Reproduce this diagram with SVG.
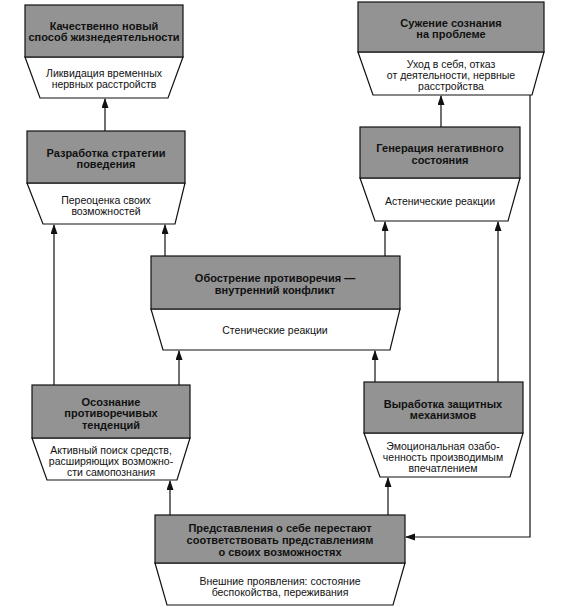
<svg xmlns="http://www.w3.org/2000/svg" width="571" height="613" viewBox="0 0 571 613">
<style>
.h{fill:#939393;stroke:#111;stroke-width:1.2}
.b{fill:#fff;stroke:#111;stroke-width:1.2}
.t{font-family:"Liberation Sans",Arial,sans-serif;font-size:11px;font-weight:bold;fill:#111;text-anchor:middle}
.s{font-family:"Liberation Sans",Arial,sans-serif;font-size:10.5px;fill:#111;text-anchor:middle}
.c{fill:none;stroke:#111;stroke-width:1.2}
</style>
<defs>
<marker id="a" markerWidth="10" markerHeight="8" refX="9" refY="3.5" orient="auto" markerUnits="userSpaceOnUse">
<path d="M0,0 L10,3.5 L0,7 Z" fill="#111"/>
</marker>
</defs>
<rect width="571" height="613" fill="#fff"/>
<g id="connectors">
<path class="c" d="M105,131 V99" marker-end="url(#a)"/>
<path class="c" d="M54,385 V225" marker-end="url(#a)"/>
<path class="c" d="M165,256 V225" marker-end="url(#a)"/>
<path class="c" d="M385,256 V222" marker-end="url(#a)"/>
<path class="c" d="M179,385 V351" marker-end="url(#a)"/>
<path class="c" d="M375,382 V351" marker-end="url(#a)"/>
<path class="c" d="M498,382 V222" marker-end="url(#a)"/>
<path class="c" d="M441,127 V96" marker-end="url(#a)"/>
<path class="c" d="M170,515 V481" marker-end="url(#a)"/>
<path class="c" d="M388,515 V478" marker-end="url(#a)"/>
<path class="c" d="M530,95 V537 H406" marker-end="url(#a)"/>
</g>
<g id="n1">
<polygon class="b" points="25,57 183,57 168,98 40,98"/>
<rect class="h" x="25" y="5" width="158" height="52"/>
<text class="t" x="104" y="30">Качественно новый</text>
<text class="t" x="104" y="41">способ жизнедеятельности</text>
<text class="s" x="104" y="77">Ликвидация временных</text>
<text class="s" x="104" y="88">нервных расстройств</text>
</g>
<g id="n2">
<polygon class="b" points="27,183 185,183 175,224 43,224"/>
<rect class="h" x="27" y="131" width="158" height="52"/>
<text class="t" x="106" y="157">Разработка стратегии</text>
<text class="t" x="106" y="168">поведения</text>
<text class="s" x="106" y="204">Переоценка своих</text>
<text class="s" x="106" y="215">возможностей</text>
</g>
<g id="n3">
<polygon class="b" points="358,52 544,52 532,95 373,95"/>
<rect class="h" x="358" y="2" width="186" height="50"/>
<text class="t" x="451" y="27">Сужение сознания</text>
<text class="t" x="451" y="38">на проблеме</text>
<text class="s" x="451" y="68">Уход в себя, отказ</text>
<text class="s" x="451" y="79">от деятельности, нервные</text>
<text class="s" x="451" y="90">расстройства</text>
</g>
<g id="n4">
<polygon class="b" points="360,178 520,178 508,221 375,221"/>
<rect class="h" x="360" y="127" width="160" height="51"/>
<text class="t" x="440" y="152">Генерация негативного</text>
<text class="t" x="440" y="164">состояния</text>
<text class="s" x="440" y="205">Астенические реакции</text>
</g>
<g id="n5">
<polygon class="b" points="151,309 400,309 390,350 163,350"/>
<rect class="h" x="151" y="256" width="249" height="53"/>
<text class="t" x="275" y="282">Обострение противоречия —</text>
<text class="t" x="275" y="294">внутренний конфликт</text>
<text class="s" x="275" y="334">Стенические реакции</text>
</g>
<g id="n6">
<polygon class="b" points="32,438 190,438 177,480 47,480"/>
<rect class="h" x="32" y="385" width="158" height="53"/>
<text class="t" x="111" y="406">Осознание</text>
<text class="t" x="111" y="417">противоречивых</text>
<text class="t" x="111" y="429">тенденций</text>
<text class="s" x="111" y="454">Активный поиск средств,</text>
<text class="s" x="111" y="465">расширяющих возможно-</text>
<text class="s" x="111" y="476">сти самопознания</text>
</g>
<g id="n7">
<polygon class="b" points="364,433 523,433 510,477 380,477"/>
<rect class="h" x="364" y="382" width="159" height="51"/>
<text class="t" x="443" y="408">Выработка защитных</text>
<text class="t" x="443" y="419">механизмов</text>
<text class="s" x="443" y="450">Эмоциональная озабо-</text>
<text class="s" x="443" y="461">ченность производимым</text>
<text class="s" x="443" y="472">впечатлением</text>
</g>
<g id="n8">
<polygon class="b" points="155,563 405,563 393,605 167,605"/>
<rect class="h" x="155" y="515" width="250" height="48"/>
<text class="t" x="280" y="532">Представления о себе перестают</text>
<text class="t" x="280" y="544">соответствовать представлениям</text>
<text class="t" x="280" y="556">о своих возможностях</text>
<text class="s" x="280" y="585">Внешние проявления: состояние</text>
<text class="s" x="280" y="596">беспокойства, переживания</text>
</g>
</svg>
